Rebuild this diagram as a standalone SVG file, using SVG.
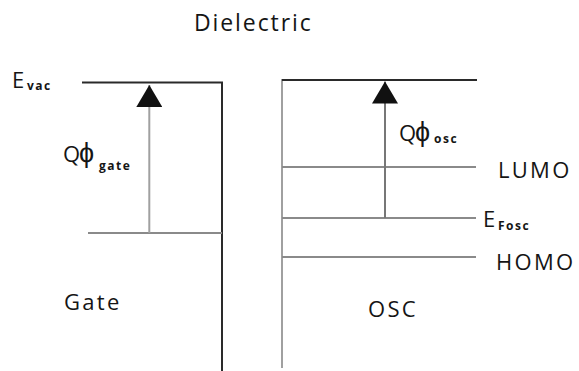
<svg xmlns="http://www.w3.org/2000/svg" width="579" height="371" viewBox="0 0 579 371">
<style>
text{font-family:"Open Sans","Liberation Sans",sans-serif;fill:#151515}
.lbl{font-size:22px;letter-spacing:2.3px}
.sym{font-size:22px}
.phi{font-size:27px}
.sub{font-size:12px;font-weight:bold;letter-spacing:1.5px}
.dark{stroke:#2a2a2a;stroke-width:2;fill:none}
.grey{stroke:#8a8a8a;stroke-width:2;fill:none}
.lgrey{stroke:#a0a0a0;stroke-width:2;fill:none}
.arr{stroke:#777;stroke-width:2;fill:none}
</style>
<defs>
<marker id="ah" markerWidth="22" markerHeight="26" refX="22" refY="13" orient="auto" markerUnits="userSpaceOnUse" viewBox="0 0 22 26">
<path d="M0 0 L22 13 L0 26 Z" fill="#111"/>
</marker>
</defs>
<rect width="579" height="371" fill="#fff"/>
<g id="dielectric">
<text class="lbl" x="194" y="31" style="font-size:23px;letter-spacing:1.9px">Dielectric</text>
</g>
<g id="gate">
<path class="dark" d="M82 82.5 H222 V371"/>
<path class="grey" d="M88 233 H222"/>
<text class="lbl" x="64" y="310">Gate</text>
<text class="sym" x="12" y="88">E</text>
<text class="sub" x="27" y="90">vac</text>
</g>
<g id="osc">
<path class="lgrey" d="M282 79 V368"/>
<path class="dark" d="M282 80 H477"/>
<path class="grey" d="M282 167 H476"/>
<path class="grey" d="M282 218 H476"/>
<path class="grey" d="M282 257 H476"/>
<text class="lbl" x="368" y="317">OSC</text>
<text class="lbl" x="498" y="178">LUMO</text>
<text class="sym" x="483" y="227">E</text>
<text class="sub" x="498" y="230">Fosc</text>
<text class="lbl" x="496" y="270">HOMO</text>
</g>
<g id="connectors">
<path class="lgrey" d="M149.3 233 V85" marker-end="url(#ah)"/>
<path class="arr" d="M385 218 V81.5" marker-end="url(#ah)"/>
<text class="sym" x="63" y="162">Q<tspan class="phi" x="79">ϕ</tspan></text>
<text class="sub" x="99" y="170">gate</text>
<text class="sym" x="399" y="141">Q<tspan class="phi" x="415">ϕ</tspan></text>
<text class="sub" x="434" y="143">osc</text>
</g>
</svg>
